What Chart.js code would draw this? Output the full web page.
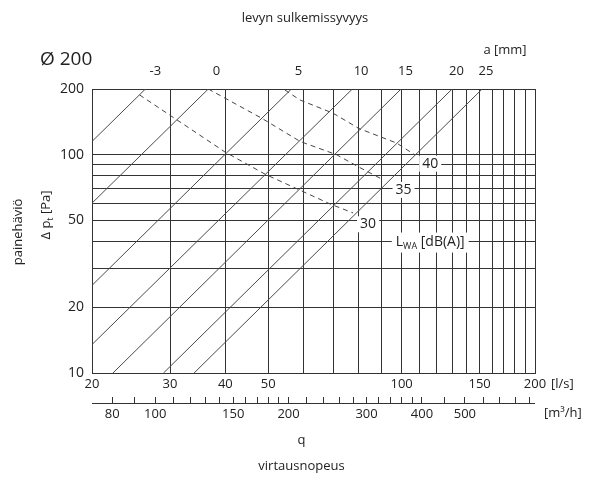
<!DOCTYPE html>
<html>
<head>
<meta charset="utf-8">
<script src="https://cdn.jsdelivr.net/npm/chart.js@4.4.1/dist/chart.umd.min.js"></script>
<style>
  body { margin: 0; background: #fff; }
  #wrap { width: 600px; height: 479px; }
</style>
</head>
<body>
<div id="wrap"><canvas id="damperChart"></canvas></div>
<script>
// axis ticks and labels
const qTicks = [20, 30, 40, 50, 60, 70, 80, 90, 100, 110, 120, 130, 140, 150, 160, 170, 180, 190, 200];
const qLabels = [20, 30, 40, 50, 100, 150, 200];
const dpTicks = [10, 20, 30, 40, 50, 60, 70, 80, 90, 100, 200];
const dpLabels = [10, 20, 50, 100, 200];
const m3hTicks = [80, 90, 100, 110, 120, 130, 140, 150, 160, 170, 180, 190, 200, 220, 240, 260, 280, 300, 320, 340, 360, 380, 400, 450, 500, 550, 600, 650, 700];
const m3hLabels = [80, 100, 150, 200, 300, 400, 500];

// damper closing depth a [mm] - solid lines
const damperSettings = ['-3', '0', '5', '10', '15', '20', '25'];
const damperLowQ = [20, 20, 20, 20, 22.3, 29, 34];
const damperLowDp = [115, 60, 25.2, 13.5, 10, 10, 10];
const damperHighQ = [26.4, 36.6, 56.4, 77.4, 99.7, 130, 152];
const damperHighDp = [200, 200, 200, 200, 200, 200, 200];
const damperLabelQ = [27.8, 38.2, 58.5, 81, 102, 133, 155];

// sound power level LWA - dashed lines
const lwaLevels = ['30', '35', '40'];
const lwa30Q = [25.6, 39.9, 49.2, 68.9, 77.7];
const lwa30Dp = [188, 103, 81.4, 59.5, 54.1];
const lwa35Q = [36.6, 48.3, 59, 71.3, 80.2, 91];
const lwa35Dp = [200, 147, 115, 100, 87.6, 76.6];
const lwa40Q = [54.5, 59, 70, 80, 97.5, 107];
const lwa40Dp = [198, 178, 155, 132, 113, 100];
const lwaLabelQ = [84, 101, 116];
const lwaLabelDp = [48, 69, 91];

const FONT = "'Open Sans', sans-serif";
const INK = '#222';
const GRID = '#333';

const datasets = [];
damperSettings.forEach((a, i) => {
  datasets.push({
    label: 'a ' + a,
    data: [{ x: damperLowQ[i], y: damperLowDp[i] }, { x: damperHighQ[i], y: damperHighDp[i] }],
    borderColor: '#4a4a4a',
    borderWidth: 1
  });
});
[[lwa30Q, lwa30Dp], [lwa35Q, lwa35Dp], [lwa40Q, lwa40Dp]].forEach(([qs, dps], i) => {
  datasets.push({
    label: 'LWA ' + lwaLevels[i],
    data: qs.map((q, j) => ({ x: q, y: dps[j] })),
    borderColor: '#444',
    borderWidth: 1,
    borderDash: [5, 4]
  });
});

function boxedText(ctx, txt, px, py, size) {
  ctx.font = size + 'px ' + FONT;
  const w = ctx.measureText(txt).width;
  ctx.fillStyle = '#fff';
  ctx.fillRect(px - w / 2 - 3, py - size / 2 - 1, w + 6, size + 2);
  ctx.fillStyle = INK;
  ctx.fillText(txt, px, py);
}

const annotations = {
  id: 'annotations',
  afterDatasetsDraw(chart) {
    const { ctx, scales } = chart;
    const x = scales.x, y = scales.y, x2 = scales.x2;
    ctx.save();
    ctx.textAlign = 'center';
    ctx.textBaseline = 'middle';

    // level labels on dashed lines
    lwaLevels.forEach((lv, i) => {
      boxedText(ctx, lv, x.getPixelForValue(lwaLabelQ[i]), y.getPixelForValue(lwaLabelDp[i]), 14);
    });

    // L_WA [dB(A)]
    const lx = x.getPixelForValue(116), ly = y.getPixelForValue(40);
    ctx.font = '14px ' + FONT;
    const wL = ctx.measureText('L').width;
    const wB = ctx.measureText(' [dB(A)]').width;
    ctx.font = '9px ' + FONT;
    const wS = ctx.measureText('WA').width;
    const tot = wL + wS + wB;
    ctx.fillStyle = '#fff';
    ctx.fillRect(lx - tot / 2 - 4, ly - 9, tot + 8, 20);
    ctx.fillStyle = INK;
    ctx.textAlign = 'left';
    let cx = lx - tot / 2;
    ctx.font = '14px ' + FONT;
    ctx.fillText('L', cx, ly);
    cx += wL;
    ctx.font = '9px ' + FONT;
    ctx.fillText('WA', cx, ly + 5);
    cx += wS;
    ctx.font = '14px ' + FONT;
    ctx.fillText(' [dB(A)]', cx, ly);

    // m3/h axis line under its ticks
    ctx.strokeStyle = GRID;
    ctx.lineWidth = 1;
    ctx.beginPath();
    ctx.moveTo(x2.left, Math.round(x2.top + 6) + 0.5);
    ctx.lineTo(x2.right, Math.round(x2.top + 6) + 0.5);
    ctx.stroke();

    // texts around the plot
    ctx.fillStyle = INK;
    ctx.textAlign = 'center';
    ctx.font = '13px ' + FONT;
    ctx.fillText('levyn sulkemissyvyys', 305, 18);
    ctx.fillText('a [mm]', 505, 50);
    ctx.font = '19px ' + FONT;
    ctx.textAlign = 'left';
    ctx.fillText('Ø 200', 40, 60);
    ctx.font = '13px ' + FONT;
    ctx.fillText('[l/s]', x.right + 16, x.top + 11);
    ctx.fillText('[m³/h]', x.right + 9, x2.top + 16);
    ctx.textAlign = 'center';
    ctx.fillText('q', (x.left + x.right) / 2 - 12, 440);
    ctx.fillText('virtausnopeus', (x.left + x.right) / 2 - 12, 466);

    // y titles
    ctx.save();
    ctx.translate(18, 232);
    ctx.rotate(-Math.PI / 2);
    ctx.fillText('painehäviö', 0, 0);
    ctx.restore();

    ctx.save();
    ctx.translate(46, 215);
    ctx.rotate(-Math.PI / 2);
    ctx.font = '13px ' + FONT;
    const wD = ctx.measureText('Δ p').width;
    const wP = ctx.measureText(' [Pa]').width;
    ctx.font = '9px ' + FONT;
    const wT = ctx.measureText('t').width;
    let tx = -(wD + wT + wP) / 2;
    ctx.textAlign = 'left';
    ctx.font = '13px ' + FONT;
    ctx.fillText('Δ p', tx, 0);
    tx += wD;
    ctx.font = '9px ' + FONT;
    ctx.fillText('t', tx, 4);
    tx += wT;
    ctx.font = '13px ' + FONT;
    ctx.fillText(' [Pa]', tx, 0);
    ctx.restore();

    ctx.restore();
  }
};

new Chart(document.getElementById('damperChart'), {
  type: 'scatter',
  data: { datasets },
  plugins: [annotations],
  options: {
    responsive: true,
    maintainAspectRatio: false,
    animation: false,
    showLine: true,
    elements: { point: { radius: 0, hoverRadius: 0 }, line: { tension: 0 } },
    layout: { padding: { left: 0, right: 65, top: 0, bottom: 0 } },
    plugins: { legend: { display: false }, tooltip: { enabled: false } },
    scales: {
      x: {
        type: 'logarithmic',
        position: 'bottom',
        weight: 0,
        min: 20,
        max: 200,
        afterBuildTicks: s => { s.ticks = qTicks.map(v => ({ value: v })); },
        afterFit: s => { s.height = 24; },
        ticks: {
          autoSkip: false,
          maxRotation: 0,
          padding: 3,
          color: INK,
          font: { family: FONT, size: 13 },
          callback: v => (qLabels.includes(v) ? String(v) : '')
        },
        grid: { color: GRID, lineWidth: 1, drawTicks: false },
        border: { display: true, color: GRID }
      },
      x2: {
        type: 'logarithmic',
        position: 'bottom',
        weight: 1,
        min: 72,
        max: 720,
        afterBuildTicks: s => { s.ticks = m3hTicks.map(v => ({ value: v })); },
        afterFit: s => { s.height = 82; },
        ticks: {
          autoSkip: false,
          maxRotation: 0,
          padding: 3,
          color: INK,
          font: { family: FONT, size: 13 },
          callback: v => (m3hLabels.includes(v) ? String(v) : '')
        },
        grid: { drawOnChartArea: false, drawTicks: true, tickLength: 6, color: GRID },
        border: { display: false }
      },
      xTop: {
        type: 'logarithmic',
        position: 'top',
        min: 20,
        max: 200,
        afterBuildTicks: s => { s.ticks = damperLabelQ.map(v => ({ value: v })); },
        afterFit: s => { s.height = 89; },
        ticks: {
          autoSkip: false,
          maxRotation: 0,
          padding: 2,
          color: INK,
          font: { family: FONT, size: 13 },
          callback: (v, i) => damperSettings[i]
        },
        grid: { display: false },
        border: { display: false }
      },
      y: {
        type: 'logarithmic',
        position: 'left',
        min: 10,
        max: 200,
        afterBuildTicks: s => { s.ticks = dpTicks.map(v => ({ value: v })); },
        afterFit: s => { s.width = 92; },
        ticks: {
          autoSkip: false,
          padding: 8,
          color: INK,
          font: { family: FONT, size: 14 },
          callback: v => (dpLabels.includes(v) ? String(v) : '')
        },
        grid: { color: GRID, lineWidth: 1, drawTicks: false },
        border: { display: true, color: GRID }
      }
    }
  }
});
</script>
</body>
</html>
